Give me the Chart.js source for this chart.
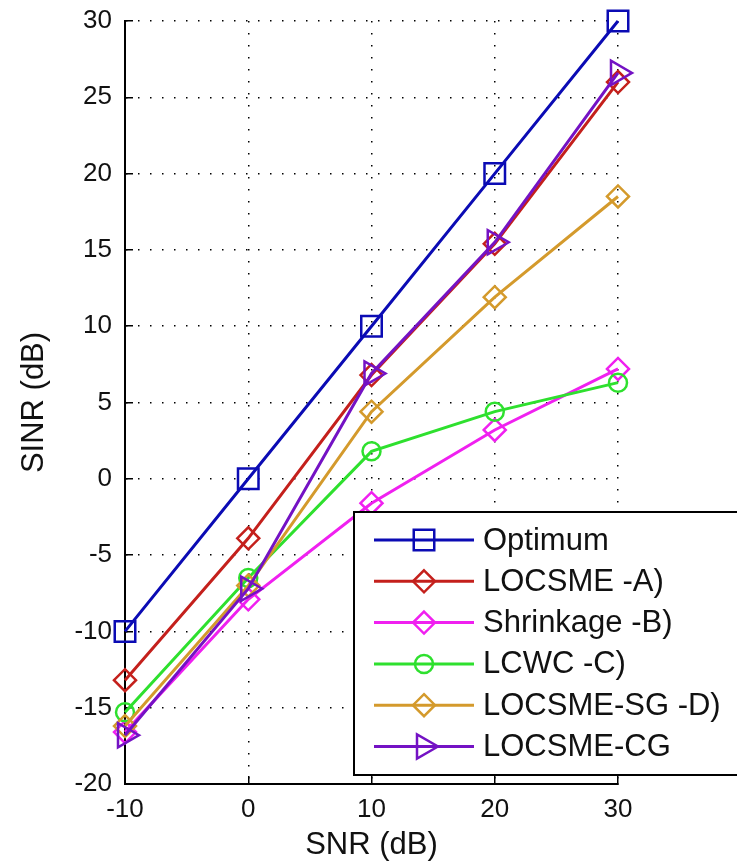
<!DOCTYPE html>
<html>
<head>
<meta charset="utf-8">
<script src="https://cdn.jsdelivr.net/npm/chart.js@4"></script>
<style>
    html, body { margin: 0; padding: 0; background: #fff; }
    #wrap { position: relative; width: 737px; height: 865px; }
</style>
</head>
<body>
<div id="wrap"><canvas id="chart" width="737" height="865"></canvas></div>
<script>
// values
const snr = [-10, 0, 10, 20, 30]
const optimum = [-10, 0, 10, 20, 30]
const locsmeA = [-13.2, -3.9, 6.8, 15.4, 26.0]
const shrinkageB = [-16.6, -7.9, -1.6, 3.2, 7.2]
const lcwcC = [-15.3, -6.5, 1.8, 4.4, 6.3]
const locsmeSgD = [-16.2, -7.0, 4.4, 11.9, 18.5]
const locsmeCg = [-16.8, -7.2, 6.9, 15.5, 26.6]

const xTicks = [-10, 0, 10, 20, 30]
const yTicks = [-20, -15, -10, -5, 0, 5, 10, 15, 20, 25, 30]

const seriesNames = ['Optimum', 'LOCSME -A)', 'Shrinkage -B)', 'LCWC -C)', 'LOCSME-SG -D)', 'LOCSME-CG']
const seriesValues = [optimum, locsmeA, shrinkageB, lcwcC, locsmeSgD, locsmeCg]
const seriesColors = ['#0b0bb4', '#c4201c', '#f020f0', '#2ee02e', '#d49a2c', '#7412c4']
const seriesMarkers = ['rect', 'rectRot', 'rectRot', 'circle', 'rectRot', 'triangle']
const markerRadius = [14.5, 11, 11, 9, 11, 14]
const markerRotation = [0, 0, 0, 0, 0, 90]

const FONT = "'Liberation Sans', Arial, sans-serif"

const datasets = seriesNames.map((name, i) => ({
    label: name,
    data: snr.map((x, k) => ({ x: x, y: seriesValues[i][k] })),
    borderColor: seriesColors[i],
    borderWidth: 3,
    pointStyle: seriesMarkers[i],
    pointRadius: markerRadius[i],
    pointRotation: markerRotation[i],
    pointBorderWidth: 2.5,
    pointBorderColor: seriesColors[i],
    pointBackgroundColor: 'rgba(0,0,0,0)',
    tension: 0,
    clip: false,
    order: seriesNames.length - i,
}))

// marker drawing for the legend box
function drawMarker(ctx, style, x, y, r, rot) {
    ctx.beginPath()
    if (style === 'rect') {
        const s = r * Math.SQRT1_2
        ctx.rect(x - s, y - s, 2 * s, 2 * s)
    } else if (style === 'rectRot') {
        ctx.moveTo(x, y - r)
        ctx.lineTo(x + r, y)
        ctx.lineTo(x, y + r)
        ctx.lineTo(x - r, y)
        ctx.closePath()
    } else if (style === 'circle') {
        ctx.arc(x, y, r, 0, Math.PI * 2)
    } else if (style === 'triangle') {
        let rad = rot * Math.PI / 180
        for (let k = 0; k < 3; k++) {
            const px = x + Math.sin(rad) * r
            const py = y - Math.cos(rad) * r
            if (k === 0) ctx.moveTo(px, py)
            else ctx.lineTo(px, py)
            rad += Math.PI * 2 / 3
        }
        ctx.closePath()
    }
    ctx.stroke()
}

const boxLegend = {
    id: 'boxLegend',
    afterDraw(chart) {
        const ctx = chart.ctx
        ctx.save()
        ctx.fillStyle = '#fff'
        ctx.strokeStyle = '#000'
        ctx.lineWidth = 2
        ctx.fillRect(354, 512, 400, 263)
        ctx.strokeRect(354, 512, 400, 263)

        ctx.font = '31px ' + FONT
        ctx.textBaseline = 'middle'
        ctx.textAlign = 'left'
        seriesNames.forEach((name, i) => {
            const y = 540 + i * 41.3
            ctx.strokeStyle = seriesColors[i]
            ctx.lineWidth = 3
            ctx.beginPath()
            ctx.moveTo(374, y)
            ctx.lineTo(474, y)
            ctx.stroke()
            ctx.lineWidth = 2.5
            drawMarker(ctx, seriesMarkers[i], 424, y, markerRadius[i], markerRotation[i])
            ctx.fillStyle = '#111'
            ctx.fillText(name, 483, y + 1)
        })
        ctx.restore()
    },
}

const gridOpts = {
    color: '#000',
    lineWidth: 1.5,
    tickLength: -8,
    tickColor: '#000',
    tickWidth: 1.5,
    tickBorderDash: [],
}
const borderOpts = { display: true, color: '#000', width: 2, dash: [1.5, 10.5] }

new Chart(document.getElementById('chart').getContext('2d'), {
    type: 'line',
    data: { datasets: datasets },
    options: {
        responsive: false,
        animation: false,
        layout: { padding: { top: 21, right: 119, left: 0, bottom: 0 } },
        plugins: {
            legend: { display: false },
            tooltip: { enabled: false },
        },
        scales: {
            x: {
                type: 'linear',
                min: -10,
                max: 30,
                afterBuildTicks: (scale) => {
                    scale.ticks = xTicks.map((v) => ({ value: v }))
                },
                afterFit: (scale) => {
                    scale.height = 81
                },
                grid: gridOpts,
                border: borderOpts,
                ticks: {
                    color: '#111',
                    font: { family: FONT, size: 26 },
                    padding: 18,
                    maxRotation: 0,
                },
                title: {
                    display: true,
                    text: 'SNR (dB)',
                    color: '#111',
                    font: { family: FONT, size: 31 },
                    padding: { top: 0, bottom: 1 },
                },
            },
            y: {
                type: 'linear',
                min: -20,
                max: 30,
                afterBuildTicks: (scale) => {
                    scale.ticks = yTicks.map((v) => ({ value: v }))
                },
                afterFit: (scale) => {
                    scale.width = 125
                    // keep the label overhang from pushing the plot top down
                    scale.paddingTop = 10
                    scale.paddingBottom = 10
                },
                grid: gridOpts,
                border: borderOpts,
                ticks: {
                    color: '#111',
                    font: { family: FONT, size: 26 },
                    padding: 21,
                },
                title: {
                    display: true,
                    text: 'SINR (dB)',
                    color: '#111',
                    font: { family: FONT, size: 31 },
                    padding: { top: 16, bottom: 0 },
                },
            },
        },
    },
    plugins: [boxLegend],
})
</script>
</body>
</html>
